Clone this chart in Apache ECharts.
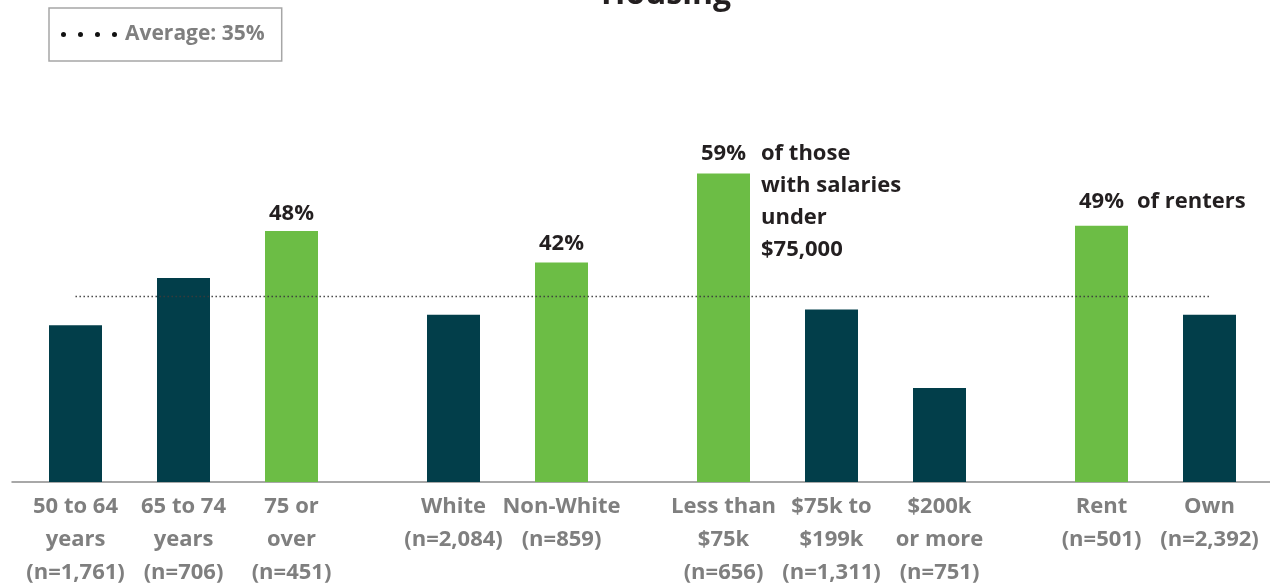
<!DOCTYPE html>
<html><head><meta charset="utf-8">
<script src="https://cdn.jsdelivr.net/npm/echarts@6/dist/echarts.min.js"></script>
<style>html,body{margin:0;padding:0;background:#fff}#c{width:1270px;height:584px}</style>
</head><body><div id="c"></div>
<script>
const title = 'Housing';
const categories = [
  '50 to 64\nyears\n(n=1,761)', '65 to 74\nyears\n(n=706)', '75 or\nover\n(n=451)',
  'White\n(n=2,084)', 'Non-White\n(n=859)',
  'Less than\n$75k\n(n=656)', '$75k to\n$199k\n(n=1,311)', '$200k\nor more\n(n=751)',
  'Rent\n(n=501)', 'Own\n(n=2,392)'
];
const groupSizes = [3, 2, 3, 2];
const values = [30, 39, 48, 32, 42, 59, 33, 18, 49, 32];
const highlighted = [false, false, true, false, true, true, false, false, true, false];
const notes = ['', '', '', '', '', 'of those\nwith salaries\nunder\n$75,000', '', '', 'of renters', ''];
const average = 35.6;           // drawn position of the average line
const averageLabel = 'Average: 35%';

const FONT = '"Open Sans", "Noto Sans", sans-serif';
const DARK = '#023e4a', GREEN = '#6cbd45', GRAY = '#7f7f7f', INK = '#231f20';
// fine-tuning of the value-label gaps above individual bars (style only)
const labelGap = { 2: 6, 4: 8, 5: 9, 8: 13 };

// layout slots: one blank slot between bars of a group, two between groups
const slots = [];
const slotOf = [];
let k = 0;
groupSizes.forEach((n, g) => {
  if (g > 0) slots.push('', '');
  for (let i = 0; i < n; i++) {
    if (i > 0) slots.push('');
    slotOf.push(slots.length);
    slots.push(categories[k++]);
  }
});

const mainData = slots.map(() => '-');
const noteData = slots.map(() => '-');
values.forEach((v, i) => {
  mainData[slotOf[i]] = {
    value: v,
    itemStyle: { color: highlighted[i] ? GREEN : DARK },
    label: { show: highlighted[i], distance: labelGap[i] != null ? labelGap[i] : 8 }
  };
  const multi = notes[i].indexOf('\n') >= 0;
  noteData[slotOf[i]] = {
    value: v,
    label: notes[i] ? { show: true, position: multi ? [64, -36] : [62, -40] } : { show: false }
  };
});

const chart = echarts.init(document.getElementById('c'));
chart.setOption({
  animation: false,
  textStyle: { fontFamily: FONT },
  title: {
    text: title, left: 666, top: -21, padding: 0, textAlign: 'center',
    textStyle: { fontSize: 32, fontWeight: 'bold', color: INK, fontFamily: FONT }
  },
  legend: {
    left: 49, top: 8, padding: [16, 17, 16, 12],
    borderColor: '#a6a6a6', borderWidth: 1.5, borderRadius: 0,
    itemWidth: 56, itemHeight: 5,
    data: [{
      name: averageLabel,
      icon: 'path://M2.5,0A2.5,2.5,0,1,1,2.5,5A2.5,2.5,0,1,1,2.5,0ZM19.5,0A2.5,2.5,0,1,1,19.5,5A2.5,2.5,0,1,1,19.5,0ZM36.5,0A2.5,2.5,0,1,1,36.5,5A2.5,2.5,0,1,1,36.5,0ZM53.5,0A2.5,2.5,0,1,1,53.5,5A2.5,2.5,0,1,1,53.5,0Z'
    }],
    textStyle: { color: GRAY, fontSize: 21, fontWeight: 'bold', fontFamily: FONT, padding: [0, 0, 0, 3] },
    selectedMode: false
  },
  grid: [
    { left: 48.5, right: 33.5, top: 116, bottom: 102, containLabel: false, outerBoundsMode: 'none' },
    { left: 12, right: 0, top: 116, bottom: 102, containLabel: false, outerBoundsMode: 'none' }
  ],
  xAxis: [
    {
      type: 'category', data: slots, gridIndex: 0,
      axisLine: { show: false }, axisTick: { show: false },
      axisLabel: {
        interval: 0, margin: 8, color: GRAY, fontSize: 22, fontWeight: 'bold',
        lineHeight: 33, fontFamily: FONT, align: 'center'
      }
    },
    {
      type: 'value', gridIndex: 1, min: 0, max: 1,
      axisLine: { show: true, lineStyle: { color: '#8c8c8c', width: 1.5 } },
      axisTick: { show: false }, axisLabel: { show: false }, splitLine: { show: false }
    }
  ],
  yAxis: [
    { type: 'value', gridIndex: 0, min: 0, max: 70, show: false, splitLine: { show: false } },
    { type: 'value', gridIndex: 1, min: 0, max: 1, show: false, splitLine: { show: false } }
  ],
  series: [
    {
      type: 'bar', name: 'Housing', data: mainData, barWidth: 53, barGap: '-100%',
      xAxisIndex: 0, yAxisIndex: 0, z: 2,
      label: {
        position: 'top', formatter: p => p.value + '%',
        color: INK, fontSize: 22, fontWeight: 'bold', fontFamily: FONT
      }
    },
    {
      type: 'bar', name: 'notes', data: noteData, barWidth: 53, barGap: '-100%',
      xAxisIndex: 0, yAxisIndex: 0, silent: true, z: 3,
      itemStyle: { color: 'rgba(0,0,0,0)' },
      label: {
        align: 'left', verticalAlign: 'top', lineHeight: 32,
        formatter: p => notes[slotOf.indexOf(p.dataIndex)],
        color: INK, fontSize: 22, fontWeight: 'bold', fontFamily: FONT
      }
    },
    {
      type: 'line', name: averageLabel, data: [], xAxisIndex: 0, yAxisIndex: 0,
      itemStyle: { color: '#111' }, lineStyle: { color: '#111' },
      markLine: {
        silent: true, symbol: 'none', label: { show: false }, z: 5,
        lineStyle: { type: [1.4, 2.6], color: '#3a3a3a', width: 1.4 },
        data: [[
          { coord: [slotOf[0], average] },
          { coord: [slotOf[slotOf.length - 1], average] }
        ]]
      }
    }
  ]
});
</script>
</body></html>
